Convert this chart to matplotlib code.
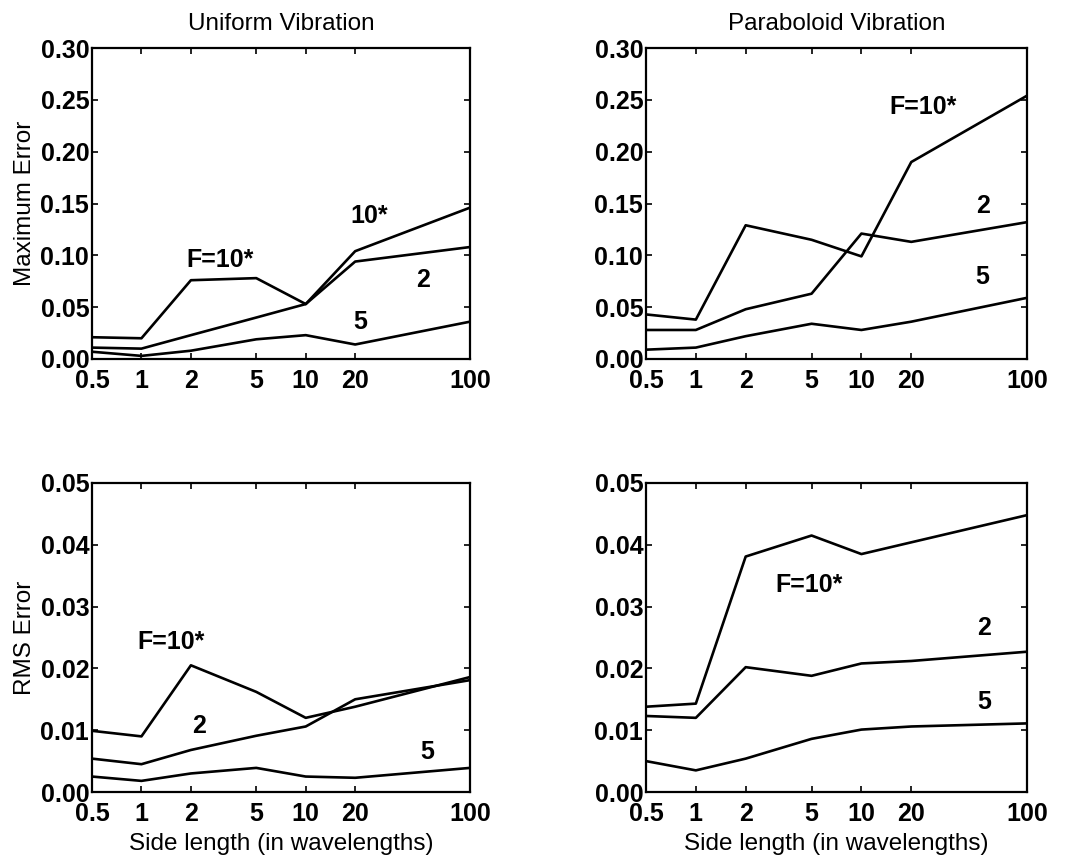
import numpy as np
import matplotlib
matplotlib.use("Agg")
import matplotlib.pyplot as plt
from matplotlib.ticker import FixedLocator, FixedFormatter, NullLocator

plt.rcParams['font.family'] = ['Liberation Sans', 'DejaVu Sans']

# side length in wavelengths (shared x for every panel)
side = [0.5, 1, 2, 5, 10, 20, 100]
side_labels = ['0.5', '1', '2', '5', '10', '20', '100']

# maximum error, uniform vibration
max_uni_f10 = [0.021, 0.020, 0.076, 0.078, 0.053, 0.104, 0.146]
max_uni_f2 = [0.011, 0.010, 0.023, 0.040, 0.053, 0.094, 0.108]
max_uni_f5 = [0.007, 0.003, 0.008, 0.019, 0.023, 0.014, 0.036]

# maximum error, paraboloid vibration
max_par_f10 = [0.043, 0.038, 0.129, 0.115, 0.099, 0.190, 0.254]
max_par_f2 = [0.028, 0.028, 0.048, 0.063, 0.121, 0.113, 0.132]
max_par_f5 = [0.009, 0.011, 0.022, 0.034, 0.028, 0.036, 0.059]

# rms error, uniform vibration
rms_uni_f10 = [0.0099, 0.0090, 0.0205, 0.0162, 0.0120, 0.0138, 0.0186]
rms_uni_f2 = [0.0054, 0.0045, 0.0068, 0.0091, 0.0106, 0.0150, 0.0181]
rms_uni_f5 = [0.0025, 0.0018, 0.0030, 0.0039, 0.0025, 0.0023, 0.0039]

# rms error, paraboloid vibration
rms_par_f10 = [0.0138, 0.0143, 0.0381, 0.0415, 0.0385, 0.0404, 0.0448]
rms_par_f2 = [0.0123, 0.0120, 0.0202, 0.0188, 0.0208, 0.0212, 0.0227]
rms_par_f5 = [0.0050, 0.0035, 0.0054, 0.0086, 0.0101, 0.0106, 0.0111]

# curve labels: (text, x, y)
lab_max_uni = [('F=10*', 3.0, 0.0955), ('10*', 24.5, 0.138), ('2', 52, 0.076), ('5', 21.5, 0.036)]
lab_max_par = [('F=10*', 23.5, 0.2435), ('2', 54, 0.148), ('5', 54, 0.079)]
lab_rms_uni = [('F=10*', 1.52, 0.0243), ('2', 2.23, 0.01065), ('5', 55, 0.0065)]
lab_rms_par = [('F=10*', 4.8, 0.0335), ('2', 55, 0.0265), ('5', 55, 0.0146)]

fig = plt.figure(figsize=(10.65, 8.57), dpi=100)
W, H = 1065, 857


def panel(l, t, r, b):
    return fig.add_axes([l / W, 1 - b / H, (r - l) / W, (b - t) / H])


def setup(ax, ymax, yticks, yfmt):
    ax.set_xscale('log')
    ax.set_xlim(0.5, 100)
    ax.set_ylim(0, ymax)
    ax.xaxis.set_major_locator(FixedLocator(side))
    ax.xaxis.set_major_formatter(FixedFormatter(side_labels))
    ax.xaxis.set_minor_locator(NullLocator())
    ax.set_yticks(yticks)
    ax.set_yticklabels([yfmt % v for v in yticks])
    ax.tick_params(direction='in', length=4, width=1.2, top=True, right=True,
                   labelsize=18)
    ax.tick_params(axis='x', pad=7)
    ax.tick_params(axis='y', pad=2)
    for lbl in ax.get_xticklabels() + ax.get_yticklabels():
        lbl.set_fontweight('bold')
    for s in ax.spines.values():
        s.set_linewidth(1.6)


def draw(ax, series, labels):
    for ys in series:
        ax.plot(side, ys, color='black', lw=1.9)
    for txt, x, y in labels:
        ax.text(x, y, txt, ha='center', va='center', fontsize=18, fontweight='bold')


ax1 = panel(92, 48, 470, 359)
ax2 = panel(646, 48, 1027, 359)
ax3 = panel(92, 483, 470, 792)
ax4 = panel(646, 483, 1027, 792)

max_ticks = [0, 0.05, 0.10, 0.15, 0.20, 0.25, 0.30]
rms_ticks = [0, 0.01, 0.02, 0.03, 0.04, 0.05]

setup(ax1, 0.30, max_ticks, '%.2f')
setup(ax2, 0.30, max_ticks, '%.2f')
setup(ax3, 0.05, rms_ticks, '%.2f')
setup(ax4, 0.05, rms_ticks, '%.2f')

draw(ax1, [max_uni_f10, max_uni_f2, max_uni_f5], lab_max_uni)
draw(ax2, [max_par_f10, max_par_f2, max_par_f5], lab_max_par)
draw(ax3, [rms_uni_f10, rms_uni_f2, rms_uni_f5], lab_rms_uni)
draw(ax4, [rms_par_f10, rms_par_f2, rms_par_f5], lab_rms_par)

ax1.set_title('Uniform Vibration', fontsize=17.5, pad=13)
ax2.set_title('Paraboloid Vibration', fontsize=17.5, pad=13)
ax1.set_ylabel('Maximum Error', fontsize=17.5, labelpad=3)
ax3.set_ylabel('RMS Error', fontsize=17.5, labelpad=3)
ax3.set_xlabel('Side length (in wavelengths)', fontsize=17.5, labelpad=5)
ax4.set_xlabel('Side length (in wavelengths)', fontsize=17.5, labelpad=5)

fig.savefig('out.png', dpi=100)
